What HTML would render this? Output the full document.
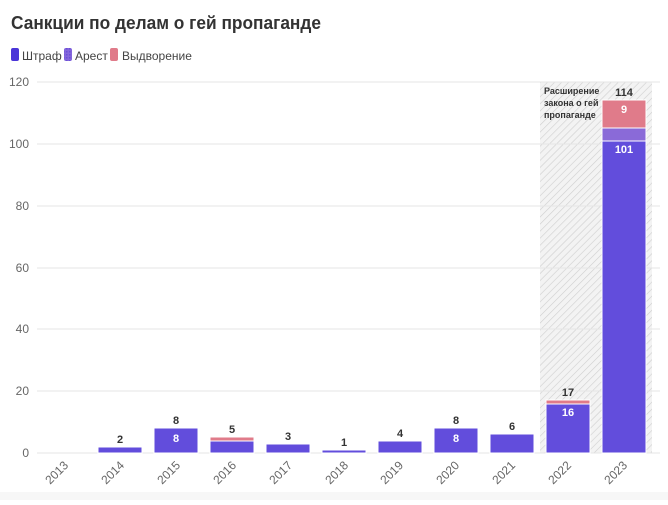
<!DOCTYPE html>
<html><head><meta charset="utf-8"><style>
body{margin:0;background:#fff;width:668px;height:500px;overflow:hidden;font-family:"Liberation Sans",sans-serif}
</style></head><body>
<svg width="668" height="500" xmlns="http://www.w3.org/2000/svg" font-family="Liberation Sans, sans-serif">
<defs>
<pattern id="h" width="5" height="5" patternUnits="userSpaceOnUse" patternTransform="rotate(45)">
<rect width="5" height="5" fill="#f3f3f3"/><line x1="0" y1="0" x2="0" y2="5" stroke="#cfcfcf" stroke-width="1.2"/></pattern>
<pattern id="a" width="3" height="3" patternUnits="userSpaceOnUse"><rect width="3" height="3" fill="#8466dc"/><rect width="1.5" height="1.5" fill="#6a4fd6"/></pattern>
</defs>
<rect x="0" y="0" width="668" height="500" fill="#fff"/>
<rect x="0" y="492" width="668" height="8" fill="#f7f7f7"/>
<text x="11" y="29" font-size="18" font-weight="bold" fill="#333" textLength="310" lengthAdjust="spacingAndGlyphs">Санкции по делам о гей пропаганде</text>
<rect x="11" y="48" width="8" height="13" rx="2" fill="#4a35d8"/><text x="22" y="60" font-size="12" fill="#444">Штраф</text>
<rect x="64" y="48" width="8" height="13" rx="2" fill="url(#a)"/><text x="75" y="60" font-size="12" fill="#444">Арест</text>
<rect x="110" y="48" width="8" height="13" rx="2" fill="#e07b8a"/><text x="122" y="60" font-size="12" fill="#444">Выдворение</text>
<rect x="540" y="82" width="112" height="371" fill="url(#h)"/>
<g stroke="#e6e6e6" stroke-width="1">
<line x1="37" y1="82" x2="660" y2="82"/><line x1="37" y1="144" x2="660" y2="144"/><line x1="37" y1="206" x2="660" y2="206"/><line x1="37" y1="268" x2="660" y2="268"/><line x1="37" y1="329" x2="660" y2="329"/><line x1="37" y1="391" x2="660" y2="391"/><line x1="37" y1="453" x2="660" y2="453"/>
</g>
<g font-size="12" fill="#666" text-anchor="end">
<text x="29" y="86">120</text><text x="29" y="148">100</text><text x="29" y="210">80</text><text x="29" y="272">60</text><text x="29" y="333">40</text><text x="29" y="395">20</text><text x="29" y="457">0</text>
</g>
<g fill="#624ddc" stroke="#fff" stroke-width="1">
<rect x="98" y="447" width="44" height="6"/>
<rect x="154" y="428" width="44" height="25"/>
<rect x="210" y="441" width="44" height="12"/>
<rect x="266" y="444" width="44" height="9"/>
<rect x="322" y="450" width="44" height="3"/>
<rect x="378" y="441" width="44" height="12"/>
<rect x="434" y="428" width="44" height="25"/>
<rect x="490" y="434" width="44" height="19"/>
<rect x="546" y="404" width="44" height="49"/>
<rect x="602" y="141" width="44" height="312"/>
</g>
<g stroke="#fff" stroke-width="1">
<rect x="210" y="437" width="44" height="4" fill="#e07b8a"/>
<rect x="546" y="400" width="44" height="4" fill="#e07b8a"/>
<rect x="602" y="128" width="44" height="13" fill="#8a6ad8"/>
<rect x="602" y="100" width="44" height="28" fill="#e07b8a"/>
</g>
<g font-size="11" font-weight="bold" fill="#333" text-anchor="middle">
<text x="120" y="443">2</text><text x="176" y="424">8</text><text x="232" y="433">5</text><text x="288" y="440">3</text><text x="344" y="446">1</text><text x="400" y="437">4</text><text x="456" y="424">8</text><text x="512" y="430">6</text><text x="568" y="396">17</text><text x="624" y="96">114</text>
</g>
<g font-size="11" font-weight="bold" fill="#fff" text-anchor="middle">
<text x="176" y="442">8</text><text x="456" y="442">8</text><text x="568" y="416">16</text><text x="624" y="153">101</text><text x="624" y="113">9</text>
</g>
<g font-size="9" font-weight="bold" fill="#333">
<text x="544" y="94">Расширение</text><text x="544" y="106">закона о гей</text><text x="544" y="118">пропаганде</text>
</g>
<g font-size="12" fill="#666" text-anchor="end">
<text transform="translate(69,466) rotate(-45)">2013</text>
<text transform="translate(125,466) rotate(-45)">2014</text>
<text transform="translate(181,466) rotate(-45)">2015</text>
<text transform="translate(237,466) rotate(-45)">2016</text>
<text transform="translate(293,466) rotate(-45)">2017</text>
<text transform="translate(349,466) rotate(-45)">2018</text>
<text transform="translate(404,466) rotate(-45)">2019</text>
<text transform="translate(460,466) rotate(-45)">2020</text>
<text transform="translate(516,466) rotate(-45)">2021</text>
<text transform="translate(572,466) rotate(-45)">2022</text>
<text transform="translate(628,466) rotate(-45)">2023</text>
</g>
</svg>
</body></html>
